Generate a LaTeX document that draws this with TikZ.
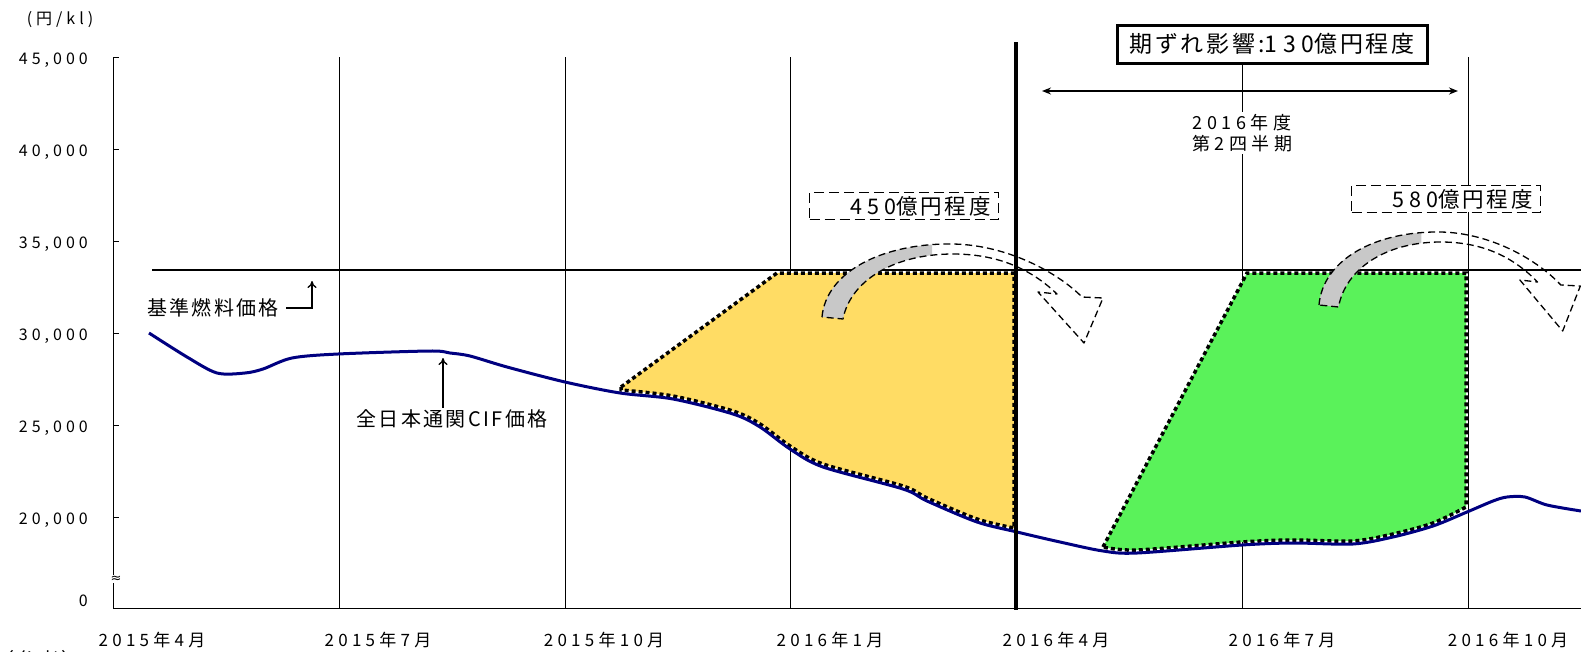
\documentclass[tikz,border=0pt]{standalone}
\usepackage{fontspec}
\setmainfont{Noto Sans CJK JP}
\newfontfamily\spaced[LetterSpace=25]{Noto Sans CJK JP}
\newfontfamily\jpwide[LetterSpace=12]{Noto Sans CJK JP}
\newfontfamily\symfont{DejaVu Sans}
\usetikzlibrary{positioning, arrows.meta}
\definecolor{cifblue}{RGB}{0,0,128}
\definecolor{gapyellow}{RGB}{255,220,100}
\definecolor{gapgreen}{RGB}{90,242,90}
\definecolor{shiftgray}{RGB}{200,200,200}
\tikzset{
    gridline/.style={black, line width=1pt},
    refline/.style={black, line width=1.4pt},
    cif/.style={cifblue, line width=3pt, line join=round},
    gaparea/.style={draw=black, line width=3.5pt, dash pattern=on 4pt off 3pt},
    ytick/.style={anchor=east, inner sep=0pt, font=\spaced\fontsize{16}{18}\selectfont},
    month/.style={inner sep=0pt, font=\spaced\fontsize{17}{19}\selectfont},
    note/.style={inner sep=2pt, font=\jpwide\fontsize{20}{22}\selectfont},
    amountbox/.style={draw, line width=1.3pt, dash pattern=on 10pt off 5pt, fill=white, inner xsep=8pt, text width=173pt, align=right, font=\jpwide\fontsize{21.5}{24}\selectfont},
    titlebox/.style={draw, line width=3pt, fill=white, minimum width=310pt, minimum height=38pt, font=\jpwide\fontsize{23}{26}\selectfont},
    shiftarrow/.pic={
        \begin{scope}
            \clip (-10,-90) rectangle (110,10);
            \fill[shiftgray] (0,0) .. controls (4,-45) and (60,-74) .. (131,-73) -- (131,-63) .. controls (70,-63) and (28,-35) .. (21,2) -- cycle;
        \end{scope}
        \draw[line width=1.3pt, dash pattern=on 7pt off 4pt, line join=round] (0,0) .. controls (4,-45) and (60,-74) .. (131,-73) .. controls (185,-72) and (235,-45) .. (260,-20) -- (281,-19) -- (262,26) -- (216,-25) -- (235,-23) .. controls (212,-45) and (180,-63) .. (131,-63) .. controls (70,-63) and (28,-35) .. (21,2) -- cycle;
    },
}

\begin{document}
\begin{tikzpicture}[x=1pt, y=-1pt]
    \useasboundingbox (0,0) rectangle (1581,651);
    \node[inner sep=0pt, font=\spaced\fontsize{16}{18}\selectfont] (unit) at (60,20) {(円/kl)};
    \foreach \x in {339,565,790,1242,1468}
        \draw[gridline] (\x,57) -- (\x,608);
    \draw[gridline] (113,57) -- (113,608) -- (1581,608);
    \foreach \y/\v in {57/{45,000}, 149/{40,000}, 241/{35,000}, 333/{30,000}, 425/{25,000}, 517/{20,000}} {
        \draw[gridline] (113,\y) -- (119,\y);
        \node[ytick] at (88,\y+3) {\v};
    }
    \node[ytick] (zero) at (88,601) {0};
    \node[inner sep=0.5pt, fill=white, font=\symfont\fontsize{13}{13}\selectfont] (brk) at (116,579) {≈};
    \foreach \x/\m in {152/2015年4月, 378/2015年7月, 604/2015年10月, 830/2016年1月, 1056/2016年4月, 1282/2016年7月, 1508/2016年10月}
        \node[month] at (\x,640) {\m};
    \node[note] (sanko) at (38,660) {（参考）};

    \draw[refline] (152,270) -- (1581,270);
    \filldraw[gaparea, fill=gapyellow] (621,387) -- (777,273) -- (1014,273) -- (1014,528)
        -- plot[smooth, tension=0.5] coordinates {(1014,528) (977,519) (927,498) (903,486) (823,464) (790,446) (760,424) (733,411) (673,396) (621,390)} -- cycle;
    \filldraw[gaparea, fill=gapgreen] (1103,547) -- (1247,273) -- (1466,273) -- (1466,507)
        -- plot[smooth, tension=0.5] coordinates {(1466,507) (1433,523) (1393,534) (1353,541) (1293,540) (1242,542) (1137,550) (1103,547)} -- cycle;
    \draw[cif] plot[smooth, tension=0.5] coordinates {(149,333) (187,357) (217,373) (245,373) (263,369) (292,358) (338,354) (430,351) (450,353) (470,356) (507,367) (565,382) (620,393) (673,399) (733,414) (760,427) (790,449) (823,467) (903,489) (927,501) (977,522) (1017,532) (1060,542) (1103,551) (1137,553) (1242,545) (1293,543) (1353,544) (1393,537) (1433,526) (1467,512) (1493,501) (1507,497) (1525,497) (1547,505) (1581,511)};

    \node[note] (reflabel) at (213,308) {基準燃料価格};
    \coordinate (refpt) at (312,281);
    \draw[-{To[length=7pt,width=9pt]}, line width=1.3pt] ([xshift=5pt]reflabel.east) -| (refpt);
    \node[note] (ciflabel) at (452,419) {全日本通関CIF価格};
    \coordinate (cifpt) at (443,358);
    \draw[-{To[length=7pt,width=9pt]}, line width=1.3pt] (ciflabel.north -| cifpt) -- (cifpt);

    \pic at (822,317) {shiftarrow};
    \pic[xscale=0.93] at (1319,305) {shiftarrow};
    \draw[line width=3.5pt] (1016,42) -- (1016,610);

    \node[amountbox] (yamount) at (904,206) {{\spaced 450}億円程度};
    \node[amountbox] (gamount) at (1446,199) {{\spaced 580}億円程度};
    \node[titlebox] (shift) at (1272,44) {期ずれ影響:{\spaced 130}億円程度};
    \coordinate (q2start) at (1042,91);
    \coordinate (q2end) at (1458,91);
    \draw[{Stealth[length=9pt,width=7pt]}-{Stealth[length=9pt,width=7pt]}, line width=2pt] (q2start) -- (q2end);
    \node[fill=white, align=center, inner sep=2pt, font=\spaced\fontsize{18}{21}\selectfont] (q2label) at (1242,133) {2016年度\\第2四半期};
\end{tikzpicture}
\end{document}
